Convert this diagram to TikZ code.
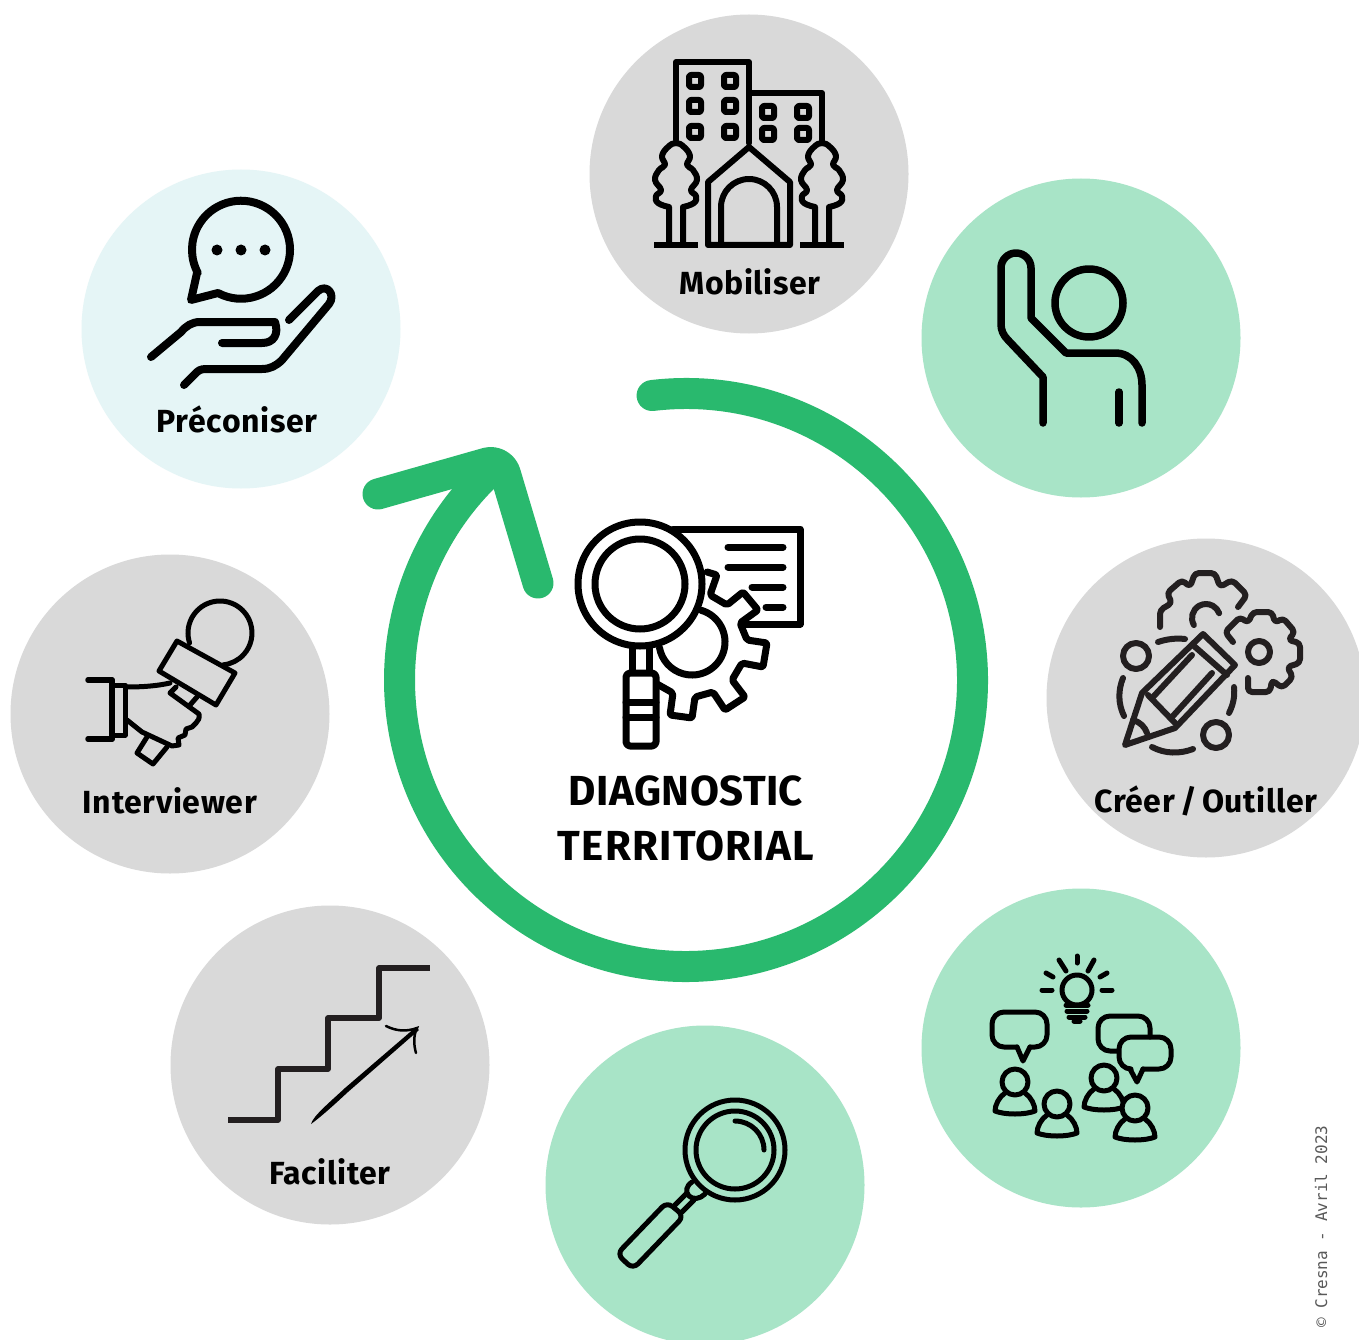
\documentclass[tikz,border=0pt]{standalone}
\usepackage{fontspec}
\usepackage{xcolor}
\usepackage{tikz}
\setmainfont{Fira Sans}
\newfontfamily\stampfont{DejaVu Sans Mono}
\definecolor{ringgreen}{HTML}{29B96E}
\definecolor{mintgreen}{HTML}{A8E4C7}
\definecolor{softgray}{HTML}{D9D9D9}
\definecolor{palecyan}{HTML}{E5F5F6}
\definecolor{inkdark}{HTML}{231F20}
\tikzset{
	bubble/.style={circle,minimum size=319pt,inner sep=0pt,outer sep=0pt,fill=#1},
	bubblelabel/.style={font=\bfseries\fontsize{32}{32}\selectfont\addfontfeatures{LetterSpace=2},text=black,inner sep=0pt},
	titlelabel/.style={font=\bfseries\fontsize{42}{42}\selectfont\addfontfeatures{LetterSpace=#1},text=black,inner sep=0pt},
	icon/.style={line width=#1,line cap=round,line join=round},
	icon/.default=6pt,
	ringline/.style={ringgreen,line width=31pt,line cap=round,line join=round}
}
\begin{document}
\begin{tikzpicture}[x=1pt,y=-1pt]
	\useasboundingbox (0,0) rectangle (1359,1340);
	\clip (0,0) rectangle (1359,1340);
	\fill[white] (0,0) rectangle (1359,1340);
	\node[bubble=softgray] (mobiliser) at (749,174) {};
	\node[bubble=mintgreen] (participer) at (1081,338) {};
	\node[bubble=softgray] (creer) at (1206,698) {};
	\node[bubble=mintgreen] (idees) at (1081,1048) {};
	\node[bubble=mintgreen] (observer) at (705,1185) {};
	\node[bubble=softgray] (faciliter) at (330,1065) {};
	\node[bubble=softgray] (interviewer) at (170,714) {};
	\node[bubble=palecyan] (preconiser) at (241,329) {};
	\node[bubblelabel] (mobiliserlabel) at (750,281.5) {Mobiliser};
	\node[bubblelabel] (creerlabel) at (1206,800.5) {Créer\hspace{-3pt} / \hspace{-3pt}Outiller};
	\node[bubblelabel] (faciliterlabel) at (330,1172) {Faciliter};
	\node[bubblelabel] (interviewerlabel) at (170,801) {Interviewer};
	\node[bubblelabel] (preconiserlabel) at (237,419) {Préconiser};
	\node[titlelabel=1] (titletop) at (686,791) {DIAGNOSTIC};
	\node[titlelabel=3] (titlebottom) at (686,846) {TERRITORIAL};
	\node[rotate=90,anchor=west,inner sep=0pt,text=black!65,font=\stampfont\fontsize{16}{16}\selectfont] (stamp) at (1321,1328) {© Cresna - Avril 2023};

	\coordinate (ringcentre) at (686,680);
	\coordinate (wingleft) at (378,494);
	\coordinate (wingtip) at (501,459);
	\coordinate (wingright) at (538,583);
	\draw[ringline] (ringcentre) ++(-96.8:286.5) arc[start angle=-96.8,end angle=227.9,radius=286.5];
	\draw[ringline,rounded corners=15pt] (wingleft) -- (wingtip) -- (wingright);

	% diagnostic
	\draw[icon=7pt] (673,529) -- (800,529) -- (800,624) -- (743,624);
	\draw[icon=7pt] (728,547) -- (783,547);
	\draw[icon=7pt] (728,567) -- (783,567);
	\draw[icon=7pt] (752,587) -- (783,587);
	\draw[icon=7pt] (766,607) -- (783,607);
	\draw[icon=7pt,rounded corners=2pt] (707,572) -- (717,575) -- (710,595) -- (727,605) -- (743,592) -- (758,610) -- (740,623) -- (747,640) -- (767,643) -- (763,667) -- (742,663) -- (732,680) -- (745,697) -- (725,710) -- (713,692) -- (695,697) -- (692,718) -- (670,715) -- (673,693) -- (657,684);
	\draw[icon=7pt] (692,642) ++(-74:33) arc[start angle=-74,end angle=170,radius=33];
	\draw[icon=7pt,fill=white] (640,584) circle (62);
	\draw[icon=7pt] (640,584) circle (45);
	\draw[icon=7pt] (632,648) -- (632,673);
	\draw[icon=7pt] (649,648) -- (649,673);
	\draw[icon=7pt,rounded corners=4pt,fill=white] (626,673) rectangle (656,746);
	\draw[icon=7pt] (626,702) -- (656,702);
	\draw[icon=7pt] (626,717) -- (656,717);

	% buildings
	\draw[icon] (676,140) -- (676,62) -- (749,62) -- (749,143);
	\draw[icon] (749,93) -- (822,93) -- (822,142);
	\foreach \wx/\wy in {695/81,730/81,695/106,730/106,695/132,730/132,768/112,803/112,768/134,803/134}
		\draw[icon,rounded corners=2pt] (\wx-6,\wy-6) rectangle (\wx+6,\wy+6);
	\draw[icon] (708,245) -- (708,182) -- (749,147) -- (790,182) -- (790,245) -- cycle;
	\draw[icon] (721,243) -- (721,207) arc[start angle=180,end angle=360,radius=28] -- (777,243);
	\foreach \tx in {676,822} {
		\draw[icon] (\tx-7,245) -- (\tx-7,207) plot[smooth,tension=.75] coordinates {(\tx-7,207) (\tx-18,203) (\tx-20,196) (\tx-15,190) (\tx-21,180) (\tx-17,170) (\tx-11,165) (\tx-14,156) (\tx-8,147) (\tx,143) (\tx+8,147) (\tx+14,156) (\tx+11,165) (\tx+17,170) (\tx+21,180) (\tx+15,190) (\tx+20,196) (\tx+18,203) (\tx+7,207)} -- (\tx+7,245);
		\draw[icon,line cap=butt] (\tx-22,245) -- (\tx+22,245);
	}

	% raised hand
	\draw[icon=7.5pt] (1089,303) circle (34);
	\draw[icon=7.5pt] (1043,423) -- (1043,377) -- (1008,340) .. controls (1003,335) and (1001,330) .. (1001,324) -- (1001,268) arc[start angle=180,end angle=360,radius=15] -- (1031,318) -- (1066,353) -- (1115,353) .. controls (1132,353) and (1142,368) .. (1142,385) -- (1142,423);
	\draw[icon=7.5pt] (1119,392) -- (1119,423);

	% pencil and gears
	\begin{scope}[inkdark]
		\draw[icon] (1125,745) -- (1142,693) -- (1203,634) -- (1235,665) -- (1175,728) -- cycle;
		\draw[icon] (1194,646) -- (1227,675);
		\draw[icon] (1148,695) -- (1175,723);
		\draw[icon] (1192,655) -- (1153,697);
		\draw[icon] (1212,673) -- (1172,717);
		\draw[icon] (1133,720) .. controls (1140,722) and (1145,727) .. (1147,733);
		\draw[icon] (1158,642) .. controls (1167,639) and (1176,638) .. (1185,639);
		\draw[icon] (1123,678) .. controls (1118,690) and (1118,704) .. (1124,716);
		\draw[icon] (1152,747) .. controls (1165,754) and (1180,754) .. (1193,749);
		\draw[icon] (1234,687) .. controls (1235,697) and (1233,705) .. (1229,713);
		\draw[icon] (1136,656) circle (13);
		\draw[icon] (1216,735) circle (13);
		\draw[icon,rounded corners=4pt] (1160,627) -- (1160,610) -- (1172,603) -- (1167,593) -- (1182,580) -- (1190,587) -- (1195,573) -- (1215,573) -- (1220,587) -- (1232,580) -- (1247,595) -- (1238,607);
		\draw[icon] (1206,618) ++(150:14) arc[start angle=150,end angle=340,radius=14];
		\draw[icon,rounded corners=4pt] (1233,642) -- (1225,632) -- (1240,617) -- (1248,623) -- (1253,612) -- (1272,612) -- (1275,623) -- (1283,618) -- (1295,632) -- (1288,640) -- (1300,643) -- (1300,663) -- (1287,667) -- (1293,677) -- (1282,688) -- (1272,680) -- (1270,692) -- (1248,692) -- (1248,678);
		\draw[icon] (1259,652) circle (11);
	\end{scope}

	% bulb and speakers
	\draw[icon=5pt] (1077,990) circle (15);
	\draw[icon=5pt] (1066,1005) -- (1088,1005);
	\draw[icon=5pt] (1067,1011) -- (1087,1011);
	\draw[icon=5pt] (1069,1017) -- (1085,1017);
	\draw[icon=5pt] (1074,1021) -- (1080,1021);
	\foreach \rx/\ry/\sx/\sy in {1077/956/1077/963,1059/960/1066/971,1094/960/1088/971,1046/973/1053/977,1107/973/1100/977,1042/990/1052/990,1102/990/1112/990}
		\draw[icon=5pt] (\rx,\ry) -- (\sx,\sy);
	\draw[icon=5pt,rounded corners=12pt] (1017,1047) -- (992,1047) -- (992,1012) -- (1047,1012) -- (1047,1047) -- (1030,1047);
	\draw[icon=5pt] (1017,1047) -- (1023,1061) -- (1030,1047);
	\draw[icon=5pt,rounded corners=12pt] (1150,1037) -- (1150,1016) -- (1098,1016) -- (1098,1051) -- (1118,1051);
	\draw[icon=5pt,rounded corners=12pt] (1130,1069) -- (1119,1069) -- (1119,1037) -- (1171,1037) -- (1171,1069) -- (1143,1069);
	\draw[icon=5pt] (1130,1069) -- (1137,1082) -- (1143,1069);
	\foreach \hx/\hy in {1015/1082,1057/1104,1104/1078,1135/1108} {
		\begin{scope}[shift={(\hx,\hy)}]
			\draw[icon=5pt] (-10,11) .. controls (-16,15) and (-20,23) .. (-20,29) .. controls (-10,33) and (10,33) .. (20,29) .. controls (20,23) and (16,15) .. (10,11);
			\draw[icon=5pt,fill=mintgreen] (0,0) circle (13);
		\end{scope}
	}

	% lens
	\draw[icon=5pt] (735,1150) circle (50);
	\draw[icon=5pt] (735,1150) circle (39);
	\draw[icon=5pt] (735,1121) arc[start angle=-90,end angle=0,radius=29];
	\draw[icon=5pt] (692,1182) .. controls (686,1186) and (685,1192) .. (689,1196) .. controls (693,1200) and (700,1199) .. (705,1194);
	\draw[icon=5pt] (675,1205) -- (687,1193);
	\draw[icon=5pt] (682,1212) -- (694,1200);
	\draw[icon=5pt,rounded corners=7pt] (617,1254) -- (667,1202) -- (684,1216) -- (633,1269) -- cycle;

	% stairs
	\draw[inkdark,line width=5.5pt,line join=round] (228,1120) -- (278,1120) -- (278,1069) -- (328,1069) -- (328,1018) -- (379,1018) -- (379,968) -- (430,968);
	\fill (311,1124) .. controls (313,1116) and (330,1102) .. (345,1088) -- (416,1027) -- (419,1030) -- (348,1092) .. controls (335,1104) and (322,1116) .. (311,1124) -- cycle;
	\draw[line width=2.5pt,line cap=round] (386,1026) .. controls (396,1031) and (406,1032) .. (417,1028) .. controls (413,1036) and (414,1046) .. (416,1053);

	% microphone
	\draw[icon=5pt] (220,633) ++(162:32) arc[start angle=162,end angle=444,radius=32];
	\draw[icon=5pt] (177,641) -- (235,673) -- (216,705) -- (159,671) -- cycle;
	\draw[icon=5.5pt] (112,680) -- (112,739);
	\draw[icon=5.5pt] (88,680) -- (112,680);
	\draw[icon=5.5pt] (88,739) -- (112,739);
	\draw[icon=5pt] (112,685) -- (125,685) -- (125,735) -- (112,735);
	\draw[icon=5pt] (127,687) .. controls (142,687) and (157,686) .. (170,683);
	\draw[icon=5pt] (176,687) -- (170,693) -- (199,714) .. controls (200,718) and (198,721) .. (196,723) -- (192,727) -- (186,729) -- (185,735) -- (178,738) -- (179,745) -- (172,746) -- (142,732) -- (127,720);
	\draw[icon=5pt] (197,697) -- (190,705);
	\draw[icon=5pt] (147,737) -- (137,753) -- (153,764) -- (167,747);

	% hand and chat
	\draw[icon=8pt] (197,273) -- (191,300) -- (218,293) arc[start angle=118,end angle=-208,radius=49];
	\foreach \dx in {217,241,265}
		\fill (\dx,250) circle (5.5);
	\draw[icon=8pt] (151,357) -- (181,332) .. controls (186,326) and (192,322) .. (200,322) -- (275,322) .. controls (279,334) and (274,343) .. (262,343) -- (222,343);
	\draw[icon=8pt] (184,385) -- (197,372) .. controls (200,369) and (204,369) .. (208,369) -- (262,369) .. controls (270,369) and (276,366) .. (282,360) -- (329,304) .. controls (336,295) and (327,283) .. (318,291) -- (289,320);
\end{tikzpicture}
\end{document}
